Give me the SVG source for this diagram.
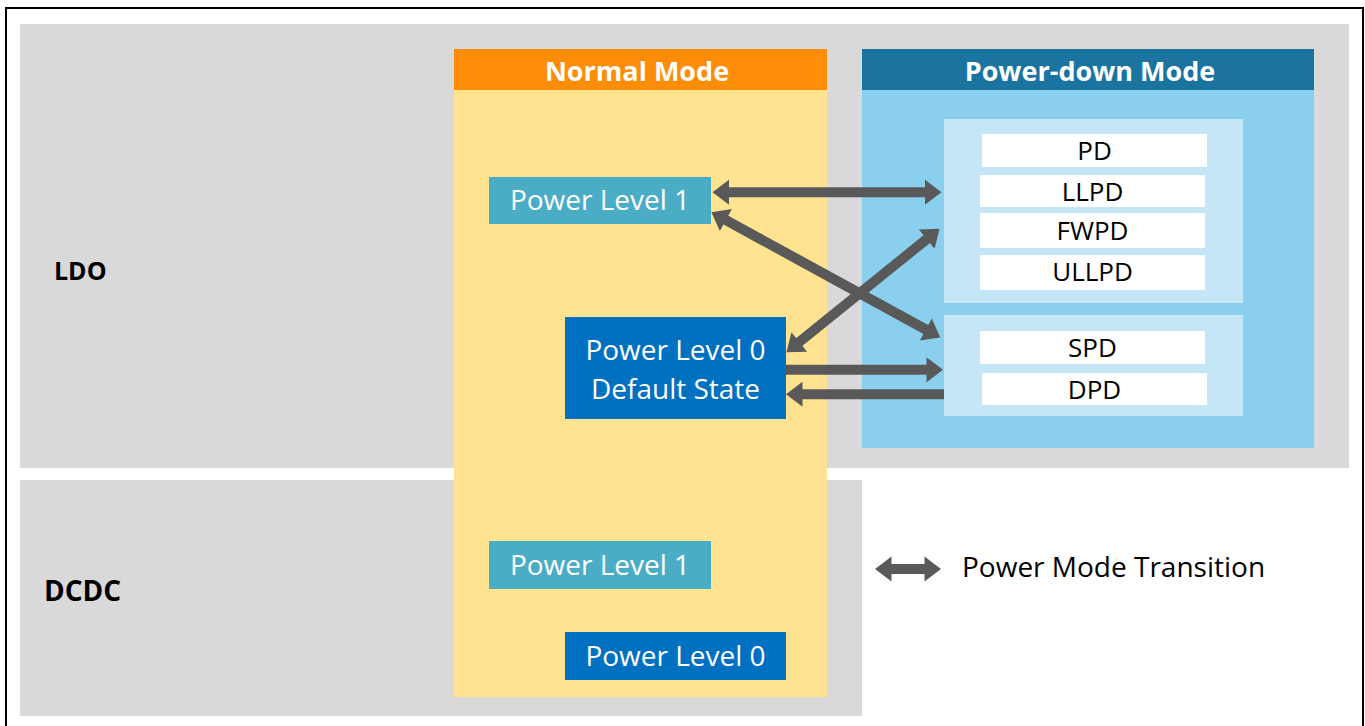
<svg xmlns="http://www.w3.org/2000/svg" width="1365" height="726" viewBox="0 0 1365 726">
  <style>
    text { font-family: "Open Sans", "Liberation Sans", sans-serif; }
    .region { fill: #D9D9D9; }
    .hdr { font-weight: bold; fill: #FFFFFF; font-size: 27px; text-anchor: middle; }
    .lvl1 { fill: #4BACC6; }
    .lvl0 { fill: #0070C0; }
    .wtxt { fill: #FFFFFF; font-size: 28px; text-anchor: middle; }
    .state { fill: #FFFFFF; }
    .stxt { fill: #000000; font-size: 26px; text-anchor: middle; }
    .group { fill: #C5E6F7; }
    .lbl { font-weight: bold; fill: #000000; }
    .conn { stroke: #595959; stroke-width: 10; fill: none; }
  </style>
  <defs>
    <marker id="ah" markerUnits="userSpaceOnUse" markerWidth="18" markerHeight="26" viewBox="0 -13 17 26" refX="1" refY="0" orient="auto-start-reverse">
      <path d="M0,-12.5 L16.5,0 L0,12.5 Z" fill="#595959"/>
    </marker>
  </defs>

  <rect x="6" y="8" width="1357" height="730" fill="#FFFFFF" stroke="#000000" stroke-width="2"/>

  <g id="ldo-region">
    <rect class="region" x="20" y="24" width="1329" height="444"/>
    <text class="lbl" x="54" y="280" font-size="25">LDO</text>
  </g>
  <g id="dcdc-region">
    <rect class="region" x="20" y="480" width="842" height="236"/>
    <text class="lbl" x="44" y="601" font-size="28">DCDC</text>
  </g>

  <g id="normal-mode">
    <rect x="454" y="49" width="373" height="648" fill="#FFE391"/>
    <rect x="454" y="49" width="373" height="41" fill="#FD8C06"/>
    <text class="hdr" x="637" y="81">Normal Mode</text>
  </g>

  <g id="powerdown-mode">
    <rect x="862" y="49" width="452" height="399" fill="#8BCFEE"/>
    <rect x="862" y="49" width="452" height="41" fill="#1A749F"/>
    <text class="hdr" x="1090" y="81">Power-down Mode</text>
  </g>

  <g id="pd-group-1">
    <rect class="group" x="944" y="119" width="299" height="184"/>
  </g>
  <g id="pd-group-2">
    <rect class="group" x="944" y="315" width="299" height="101"/>
  </g>

  <g id="state-pd">
    <rect class="state" x="982" y="134" width="225" height="33"/>
    <text class="stxt" x="1094.5" y="160">PD</text>
  </g>
  <g id="state-llpd">
    <rect class="state" x="980" y="175" width="225" height="32"/>
    <text class="stxt" x="1092.5" y="201">LLPD</text>
  </g>
  <g id="state-fwpd">
    <rect class="state" x="980" y="213" width="225" height="35"/>
    <text class="stxt" x="1092.5" y="240">FWPD</text>
  </g>
  <g id="state-ullpd">
    <rect class="state" x="980" y="255" width="225" height="35"/>
    <text class="stxt" x="1092.5" y="281">ULLPD</text>
  </g>
  <g id="state-spd">
    <rect class="state" x="980" y="331" width="225" height="33"/>
    <text class="stxt" x="1092.5" y="357">SPD</text>
  </g>
  <g id="state-dpd">
    <rect class="state" x="982" y="373" width="225" height="32"/>
    <text class="stxt" x="1094.5" y="399">DPD</text>
  </g>

  <g id="ldo-power-level-1">
    <rect class="lvl1" x="489" y="177" width="222" height="47"/>
    <text class="wtxt" x="600" y="210">Power Level 1</text>
  </g>
  <g id="ldo-power-level-0">
    <rect class="lvl0" x="565" y="317" width="221" height="102"/>
    <text class="wtxt" x="675.5" y="360">Power Level 0</text>
    <text class="wtxt" x="675.5" y="399">Default State</text>
  </g>
  <g id="dcdc-power-level-1">
    <rect class="lvl1" x="489" y="541" width="222" height="48"/>
    <text class="wtxt" x="600" y="575">Power Level 1</text>
  </g>
  <g id="dcdc-power-level-0">
    <rect class="lvl0" x="565" y="632" width="221" height="48"/>
    <text class="wtxt" x="675.5" y="666">Power Level 0</text>
  </g>

  <g id="connectors">
    <line class="conn" x1="728" y1="192.3" x2="926" y2="192.3" marker-start="url(#ah)" marker-end="url(#ah)"/>
    <line class="conn" x1="725" y1="219.6" x2="926.7" y2="330" marker-start="url(#ah)" marker-end="url(#ah)"/>
    <line class="conn" x1="798.5" y1="342.6" x2="927.5" y2="238.5" marker-start="url(#ah)" marker-end="url(#ah)"/>
    <line class="conn" x1="786" y1="369.7" x2="927.5" y2="369.7" marker-end="url(#ah)"/>
    <line class="conn" x1="944" y1="394.2" x2="801.5" y2="394.2" marker-end="url(#ah)"/>
  </g>

  <g id="legend">
    <line class="conn" x1="890.5" y1="569" x2="925.5" y2="569" marker-start="url(#ah)" marker-end="url(#ah)"/>
    <text x="962" y="577" font-size="28" fill="#000000">Power Mode Transition</text>
  </g>
</svg>
